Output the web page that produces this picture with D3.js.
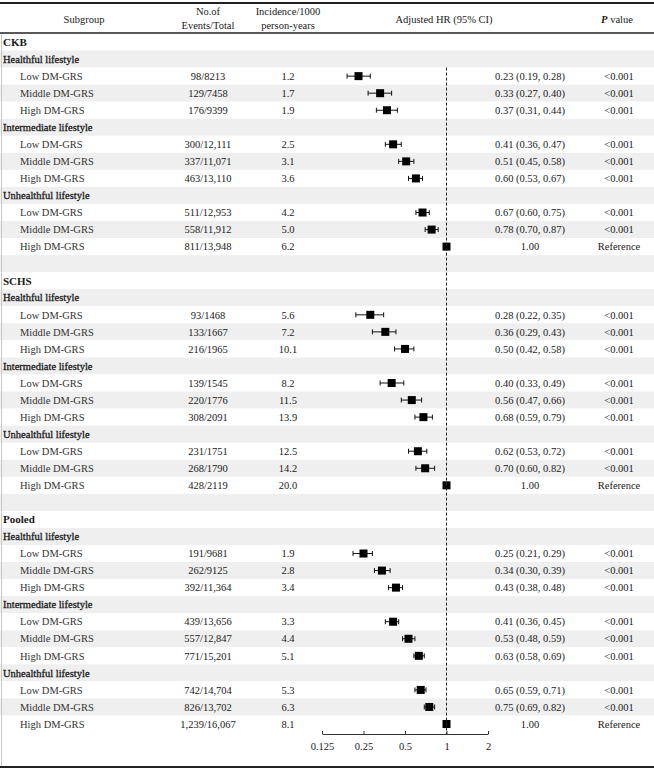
<!DOCTYPE html>
<html>
<head>
<meta charset="utf-8">
<script src="https://cdn.jsdelivr.net/npm/d3@7"></script>
<style>
  body { margin: 0; background: #fff; }
  svg text { font-family: "Liberation Serif", "Times New Roman", serif; fill: #1a1a1a; }
</style>
</head>
<body>
<div id="chart"></div>
<script>
// data
var cohorts = ["CKB", "SCHS", "Pooled"];
var lifestyles = ["Healthful lifestyle", "Intermediate lifestyle", "Unhealthful lifestyle"];
var grsLevels = ["Low DM-GRS", "Middle DM-GRS", "High DM-GRS"];

var ckbEvents = ["98/8213", "129/7458", "176/9399", "300/12,111", "337/11,071", "463/13,110", "511/12,953", "558/11,912", "811/13,948"];
var ckbIncidence = [1.2, 1.7, 1.9, 2.5, 3.1, 3.6, 4.2, 5.0, 6.2];
var ckbHR = [0.23, 0.33, 0.37, 0.41, 0.51, 0.60, 0.67, 0.78, 1.00];
var ckbLow = [0.19, 0.27, 0.31, 0.36, 0.45, 0.53, 0.60, 0.70, null];
var ckbHigh = [0.28, 0.40, 0.44, 0.47, 0.58, 0.67, 0.75, 0.87, null];

var schsEvents = ["93/1468", "133/1667", "216/1965", "139/1545", "220/1776", "308/2091", "231/1751", "268/1790", "428/2119"];
var schsIncidence = [5.6, 7.2, 10.1, 8.2, 11.5, 13.9, 12.5, 14.2, 20.0];
var schsHR = [0.28, 0.36, 0.50, 0.40, 0.56, 0.68, 0.62, 0.70, 1.00];
var schsLow = [0.22, 0.29, 0.42, 0.33, 0.47, 0.59, 0.53, 0.60, null];
var schsHigh = [0.35, 0.43, 0.58, 0.49, 0.66, 0.79, 0.72, 0.82, null];

var pooledEvents = ["191/9681", "262/9125", "392/11,364", "439/13,656", "557/12,847", "771/15,201", "742/14,704", "826/13,702", "1,239/16,067"];
var pooledIncidence = [1.9, 2.8, 3.4, 3.3, 4.4, 5.1, 5.3, 6.3, 8.1];
var pooledHR = [0.25, 0.34, 0.43, 0.41, 0.53, 0.63, 0.65, 0.75, 1.00];
var pooledLow = [0.21, 0.30, 0.38, 0.36, 0.48, 0.58, 0.59, 0.69, null];
var pooledHigh = [0.29, 0.39, 0.48, 0.45, 0.59, 0.69, 0.71, 0.82, null];

var pValues = ["<0.001", "<0.001", "<0.001", "<0.001", "<0.001", "<0.001", "<0.001", "<0.001", "Reference"];
var axisTicks = [0.125, 0.25, 0.5, 1, 2];

var cohortData = [
  {events: ckbEvents, inc: ckbIncidence, hr: ckbHR, lo: ckbLow, hi: ckbHigh},
  {events: schsEvents, inc: schsIncidence, hr: schsHR, lo: schsLow, hi: schsHigh},
  {events: pooledEvents, inc: pooledIncidence, hr: pooledHR, lo: pooledLow, hi: pooledHigh}
];

// build table rows
var rows = [];
cohorts.forEach(function(c, ci) {
  rows.push({type: "cohort", label: c});
  lifestyles.forEach(function(l, li) {
    rows.push({type: "lifestyle", label: l});
    grsLevels.forEach(function(g, gi) {
      var k = li * 3 + gi, d = cohortData[ci];
      rows.push({type: "data", label: g, events: d.events[k], inc: d.inc[k],
        hr: d.hr[k], lo: d.lo[k], hi: d.hi[k], p: pValues[k]});
    });
  });
  if (ci < cohorts.length - 1) rows.push({type: "blank"});
});

var width = 654, height = 772;
var svg = d3.select("#chart").append("svg")
    .attr("width", width)
    .attr("height", height);

var y = d3.scaleBand()
    .domain(d3.range(rows.length))
    .range([33.5, 33.5 + rows.length * 17.05]);

var x = d3.scaleLog().base(2)
    .domain([0.125, 2])
    .range([322, 488]);

var col = {events: 208, inc: 288, hrText: 530, p: 619};

// striped background
svg.append("g").selectAll("rect")
    .data(rows)
    .enter().append("rect")
    .attr("x", 0)
    .attr("width", width)
    .attr("y", function(d, i) { return y(i); })
    .attr("height", y.bandwidth())
    .attr("fill", function(d, i) { return i % 2 ? "#efefef" : "#fff"; });

// frame lines
svg.append("line").attr("x1", 0).attr("x2", width).attr("y1", 3).attr("y2", 3)
    .attr("stroke", "#222").attr("stroke-width", 2.2);
svg.append("line").attr("x1", 0).attr("x2", width).attr("y1", 33).attr("y2", 33)
    .attr("stroke", "#222").attr("stroke-width", 1.6);
svg.append("line").attr("x1", 0).attr("x2", width).attr("y1", 767).attr("y2", 767)
    .attr("stroke", "#222").attr("stroke-width", 2.2);
svg.append("line").attr("x1", 1.5).attr("x2", 1.5).attr("y1", 34).attr("y2", 766)
    .attr("stroke", "#c8c8c8").attr("stroke-width", 1);

// header
var header = svg.append("g").style("font-size", "10.5px");
header.append("text").attr("x", 84).attr("y", 23).attr("text-anchor", "middle").text("Subgroup");
header.append("text").attr("x", col.events).attr("y", 15).attr("text-anchor", "middle").text("No.of");
header.append("text").attr("x", col.events).attr("y", 29).attr("text-anchor", "middle").text("Events/Total");
header.append("text").attr("x", col.inc).attr("y", 15).attr("text-anchor", "middle").text("Incidence/1000");
header.append("text").attr("x", col.inc).attr("y", 29).attr("text-anchor", "middle").text("person-years");
header.append("text").attr("x", 444).attr("y", 23).attr("text-anchor", "middle").text("Adjusted HR  (95% CI)");
var pv = header.append("text").attr("x", 617).attr("y", 23).attr("text-anchor", "middle");
pv.append("tspan").style("font-style", "italic").style("font-weight", "bold").text("P");
pv.append("tspan").text(" value");

// row text
var rowG = svg.append("g").selectAll("g")
    .data(rows)
    .enter().append("g")
    .attr("transform", function(d, i) { return "translate(0," + (y(i) + y.bandwidth() / 2) + ")"; })
    .style("font-size", "10.5px");

rowG.filter(function(d) { return d.type === "cohort"; })
  .append("text")
    .attr("x", 3).attr("dy", "0.35em")
    .style("font-weight", "bold").style("font-size", "11px")
    .text(function(d) { return d.label; });

rowG.filter(function(d) { return d.type === "lifestyle"; })
  .append("text")
    .attr("x", 3).attr("dy", "0.35em")
    .attr("stroke", "#1a1a1a").attr("stroke-width", 0.3)
    .text(function(d) { return d.label; });

var dataRows = rowG.filter(function(d) { return d.type === "data"; });

dataRows.append("text").attr("x", 20).attr("dy", "0.35em")
    .style("fill", "#333")
    .text(function(d) { return d.label; });
dataRows.append("text").attr("x", col.events).attr("dy", "0.35em").attr("text-anchor", "middle")
    .text(function(d) { return d.events; });
dataRows.append("text").attr("x", col.inc).attr("dy", "0.35em").attr("text-anchor", "middle")
    .text(function(d) { return d.inc.toFixed(1); });
dataRows.append("text").attr("x", col.hrText).attr("dy", "0.35em").attr("text-anchor", "middle")
    .text(function(d) {
      if (d.lo == null) return d.hr.toFixed(2);
      return d.hr.toFixed(2) + " (" + d.lo.toFixed(2) + ", " + d.hi.toFixed(2) + ")";
    });
dataRows.append("text").attr("x", col.p).attr("dy", "0.35em").attr("text-anchor", "middle")
    .text(function(d) { return d.p; });

// reference line at HR = 1
svg.append("line")
    .attr("x1", x(1)).attr("x2", x(1))
    .attr("y1", y(2)).attr("y2", 734)
    .attr("stroke", "#222").attr("stroke-width", 1)
    .attr("stroke-dasharray", "3,2");

// CI whiskers
var ci = dataRows.filter(function(d) { return d.lo != null; });
ci.append("line")
    .attr("x1", function(d) { return x(d.lo); })
    .attr("x2", function(d) { return x(d.hi); })
    .attr("stroke", "#111").attr("stroke-width", 1);
ci.append("line")
    .attr("x1", function(d) { return x(d.lo); }).attr("x2", function(d) { return x(d.lo); })
    .attr("y1", -2.5).attr("y2", 2.5)
    .attr("stroke", "#111").attr("stroke-width", 1);
ci.append("line")
    .attr("x1", function(d) { return x(d.hi); }).attr("x2", function(d) { return x(d.hi); })
    .attr("y1", -2.5).attr("y2", 2.5)
    .attr("stroke", "#111").attr("stroke-width", 1);

// point estimates
dataRows.append("rect")
    .attr("x", function(d) { return x(d.hr) - 4; })
    .attr("y", -4)
    .attr("width", 8).attr("height", 8)
    .attr("fill", "#000");

// x axis
var axis = svg.append("g")
    .attr("transform", "translate(0,734)")
    .call(d3.axisBottom(x)
      .tickValues(axisTicks)
      .tickFormat(function(d) { return String(d); })
      .tickSize(-3)
      .tickSizeOuter(0)
      .tickPadding(9));
axis.selectAll("path, line").attr("stroke", "#333");
axis.selectAll("text")
    .style("font-family", "Liberation Serif, serif")
    .style("font-size", "10.5px")
    .attr("fill", "#1a1a1a");
</script>
</body>
</html>
